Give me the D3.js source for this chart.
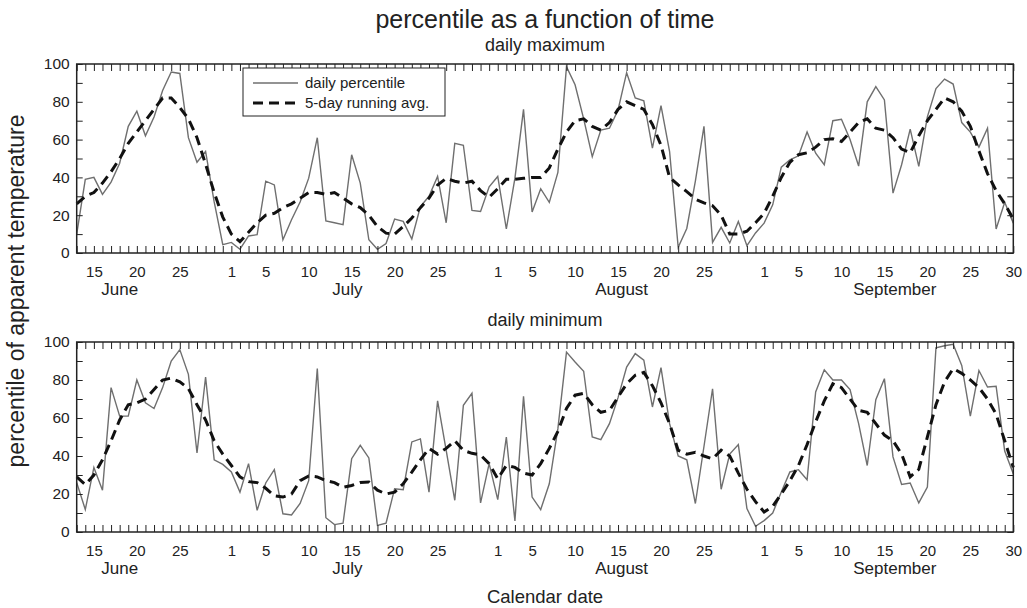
<!DOCTYPE html>
<html>
<head>
<meta charset="utf-8">
<script src="https://cdn.jsdelivr.net/npm/d3@7"></script>
<style>
  body { margin: 0; background: #fff; }
  text { font-family: "Liberation Sans", Arial, sans-serif; fill: #222; }
</style>
</head>
<body>
<div id="chart"></div>
<script>
// daily values, June 13 .. Sept 30
var startDay = "2001-06-13", endDay = "2001-10-01";

var maxDaily = [10,39,40,31,37.5,47.5,67,75,62,72,86,95.8,95,61,48,53.7,27,4.4,5.6,2,
  9,9.7,38,36,7,17.6,27,39.6,61,17,16,15,52,37,7,2,5,18,16.7,7.4,
  24.6,30,40.5,16,58,57,22.5,22,35,40.5,12.7,39.6,76,21.7,34,26.8,42.6,98.6,89,71,
  51,65,66,75.7,95.4,82,80.5,55.5,78,53.7,3,13,38,67,5.6,13.6,5.3,16.7,3.9,10.6,
  15.8,25.5,45.4,49.3,51.4,64,52.8,46.7,70,70.8,60,46,80,88,81,31.7,46.7,65.5,45.8,72,
  87,92,89.4,69,64,56,66,12.7,26.8,15.8];
var maxAvg = [26,30,32,37,43,50,58,64,70,76,82,82,77,71,61,47,32,19,10,6,
  11,16,20,21,24,26,29,32,32,31,32,29,26,24,20,14,10.5,10,14,18.5,
  24,29,36,39.5,38,37,38,33,29.5,34,39,39,39.5,40,40,45,55,64,70,71,
  67,65,69,76,80,78,76,68,57,40,36,32.5,28.5,26.5,25,20,10,10,11.5,16,
  21,30,40,48,52,53,56,60,60.5,59,64,69,71,66,65,61,55,53,62,70,
  76,82,80,75,67,54,42,33,26,18];

var minDaily = [26,11.8,34,22,76,61,61,80,68,65,76,90,96,83,41.6,81.6,38,35.6,31.6,21,
  36,11.4,25.8,32.8,9.6,9,15,27,86,7.5,3.9,4.7,38.6,45.6,39,3.5,4.7,22.8,22.3,47.4,
  49,21,69,43,16.7,66.7,73,15.3,36,17,50,5.8,71.4,18.4,11.8,25.4,54.4,94.7,89.5,84.6,
  50,48.6,57,70.7,86.8,93.9,90.4,65.8,86.5,57,40,38,15,45,75.4,22.5,41,46,12.3,3,
  6,10,21,31.6,32.8,27.5,73.7,85.4,80,80,75,57,35,69.6,80.7,39.5,25,25.8,15.3,23.7,
  97,98,98.8,87.7,61,85,76.3,76.7,42.6,30.7];
var minAvg = [29,25,30,38,48,59,67,68,70,75,80,81,79,75.5,67,59,48,41,35,29,
  26.5,26,23,19,18.4,20,27,29.5,29,27,26,23.5,24.5,26,26.3,22,20,21,25.4,31.5,
  38,44,41,44,48,43,41.4,40.5,36,28,35,34,31,30,36,44,53,65,72,73,
  67,63,64,71,78,82.5,84,77,68,57,43,41,42,40,38.5,43,40,31,22.5,16,
  10.5,13.5,20,27,35,46,58,69,78,76,70,64,63,57,51,48,41,29,33,50,
  67,79,86,83.5,80,76,70,62,48,34];

var junLabels = [15,20,25], julLabels = [1,5,10,15,20,25],
    augLabels = [1,5,10,15,20,25], sepLabels = [1,5,10,15,20,25,30];
var monthNames = ["June","July","August","September"];
var monthCenters = ["2001-06-18T00:00Z","2001-07-14T12:00Z","2001-08-15T10:00Z","2001-09-16T05:00Z"];
var yTicks = [0,10,20,30,40,50,60,70,80,90,100];

var w = 1027, h = 608;
var left = 76.7, right = 1013.3;

var svg = d3.select("#chart").append("svg").attr("width", w).attr("height", h);

var days = d3.utcDay.range(new Date(startDay), new Date(endDay));
var x = d3.scaleUtc().domain([days[0], days[days.length - 1]]).range([left, right]);

var labelDates = [];
[[5, junLabels], [6, julLabels], [7, augLabels], [8, sepLabels]].forEach(function(m){
  m[1].forEach(function(d){ labelDates.push(new Date(Date.UTC(2001, m[0], d))); });
});

function panel(top, bottom, daily, avg, subtitle, subY) {
  var y = d3.scaleLinear().domain([0, 100]).range([bottom, top]);

  var line = d3.line().x(function(d, i){ return x(days[i]); }).y(function(d){ return y(d); });

  svg.append("path").datum(daily).attr("d", line)
    .style("fill", "none").style("stroke", "#6f6f6f").style("stroke-width", 1.4);
  svg.append("path").datum(avg).attr("d", line)
    .style("fill", "none").style("stroke", "#111").style("stroke-width", 3)
    .style("stroke-dasharray", "10,6");

  // day ticks, pointing inward
  svg.append("g").attr("transform", "translate(0," + bottom + ")")
    .call(d3.axisBottom(x).tickValues(days).tickSize(-7).tickFormat("").tickSizeOuter(0));
  svg.append("g").attr("transform", "translate(0," + top + ")")
    .call(d3.axisTop(x).tickValues(days).tickSize(-7).tickFormat("").tickSizeOuter(0));
  var lab = svg.append("g").attr("transform", "translate(0," + bottom + ")")
    .call(d3.axisBottom(x).tickValues(labelDates).tickSize(0).tickPadding(13)
      .tickFormat(function(d){ return d.getUTCDate(); }));
  lab.select(".domain").remove();
  lab.selectAll("text").style("font-size", "15px").style("font-family", "Liberation Sans, Arial, sans-serif").attr("fill", "#222");

  var ly = svg.append("g").attr("transform", "translate(" + left + ",0)")
    .call(d3.axisLeft(y).tickValues(yTicks).tickSize(-6).tickPadding(7).tickSizeOuter(0)
      .tickFormat(function(d){ return d % 20 === 0 ? d : ""; }));
  ly.selectAll("text").style("font-size", "15.5px").style("font-family", "Liberation Sans, Arial, sans-serif").attr("fill", "#222");
  svg.append("g").attr("transform", "translate(" + right + ",0)")
    .call(d3.axisRight(y).tickValues(yTicks).tickSize(-6).tickFormat("").tickSizeOuter(0));

  svg.selectAll(".tick line").attr("stroke", "#222");

  svg.append("rect").attr("x", left).attr("y", top).attr("width", right - left).attr("height", bottom - top)
    .style("fill", "none").style("stroke", "#222").style("stroke-width", 1.5);
  svg.selectAll(".domain").remove();

  svg.selectAll(null).data(monthNames).enter().append("text")
    .attr("x", function(d, i){ return x(new Date(monthCenters[i])); })
    .attr("y", bottom + 42)
    .attr("text-anchor", "middle").style("font-size", "17px")
    .text(function(d){ return d; });

  svg.append("text").attr("x", (left + right) / 2).attr("y", subY)
    .attr("text-anchor", "middle").style("font-size", "18px").text(subtitle);
}

panel(64, 253, maxDaily, maxAvg, "daily maximum", 51);
panel(342, 532, minDaily, minAvg, "daily minimum", 326);

svg.append("text").attr("x", (left + right) / 2).attr("y", 28)
  .attr("text-anchor", "middle").style("font-size", "25px").text("percentile as a function of time");
svg.append("text").attr("x", (left + right) / 2).attr("y", 603)
  .attr("text-anchor", "middle").style("font-size", "18.5px").text("Calendar date");
svg.append("text").attr("transform", "translate(24,291) rotate(-90)")
  .attr("text-anchor", "middle").style("font-size", "23px").text("percentile of apparent temperature");

// legend
var lg = svg.append("g");
lg.append("rect").attr("x", 243).attr("y", 68).attr("width", 202).attr("height", 48)
  .style("fill", "#fff").style("stroke", "#222").style("stroke-width", 1);
lg.append("line").attr("x1", 253).attr("x2", 298).attr("y1", 83).attr("y2", 83)
  .style("stroke", "#6f6f6f").style("stroke-width", 1.4);
lg.append("line").attr("x1", 253).attr("x2", 298).attr("y1", 103).attr("y2", 103)
  .style("stroke", "#111").style("stroke-width", 3).style("stroke-dasharray", "10,6");
lg.append("text").attr("x", 305).attr("y", 88).style("font-size", "15px").text("daily percentile");
lg.append("text").attr("x", 305).attr("y", 108).style("font-size", "15px").text("5-day running avg.");
</script>
</body>
</html>
